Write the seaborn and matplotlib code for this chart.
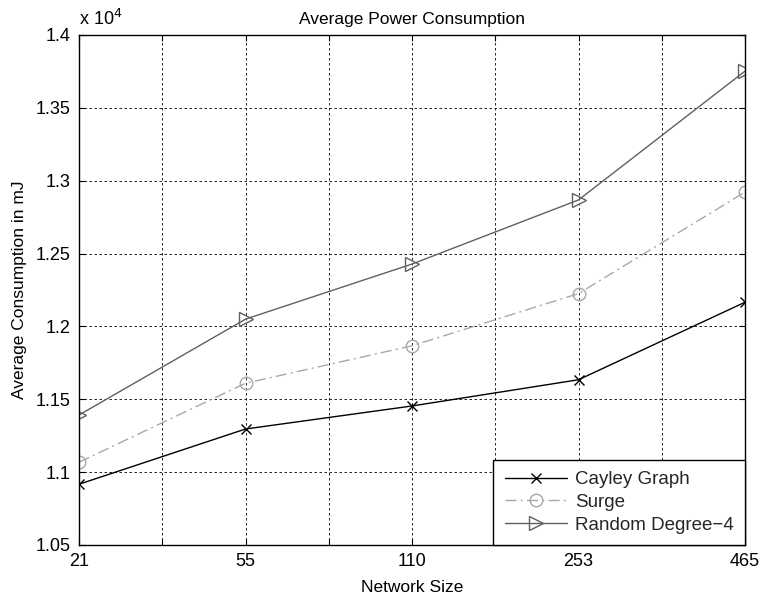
import matplotlib
matplotlib.use("Agg")
import matplotlib.pyplot as plt
import seaborn as sns
import numpy as np
import pandas as pd

network_sizes = ["21", "55", "110", "253", "465"]
cayley = [1.0917, 1.1296, 1.1454, 1.1634, 1.2166]
surge = [1.1068, 1.1610, 1.1867, 1.2225, 1.2922]
random_deg4 = [1.1392, 1.2050, 1.2428, 1.2868, 1.3752]

sns.set_theme(style="white")
plt.rcParams['font.family'] = ['Liberation Sans', 'DejaVu Sans']

fig = plt.figure(figsize=(7.62, 6.03), dpi=100)
ax = fig.add_axes([0.1037, 0.0962, 0.8740, 0.8458])

pos = np.arange(len(network_sizes))
df = pd.DataFrame({"pos": pos, "Cayley Graph": cayley, "Surge": surge,
                   "Random Degree\u22124": random_deg4})

sns.lineplot(data=df, x="pos", y="Cayley Graph", ax=ax, color="black", lw=1.0,
             marker="x", markersize=6.5, markeredgewidth=1.0, markeredgecolor="black",
             label="Cayley Graph")
sns.lineplot(data=df, x="pos", y="Surge", ax=ax, color="#a8a8a8", lw=1.0,
             linestyle=(0, (8, 3, 1.5, 3)), marker="o", markersize=9,
             markerfacecolor="none", markeredgecolor="#a8a8a8", markeredgewidth=1.0,
             label="Surge")
sns.lineplot(data=df, x="pos", y="Random Degree\u22124", ax=ax, color="#606060", lw=1.0,
             marker=">", markersize=10, markerfacecolor="none", markeredgecolor="#606060",
             markeredgewidth=1.0, label="Random Degree\u22124")

ax.set_xlim(0, 4)
ax.set_ylim(1.05, 1.4)
ticks = np.arange(0, 4.01, 0.5)
ax.set_xticks(ticks)
ax.set_xticklabels([network_sizes[int(t)] if t == int(t) else "" for t in ticks])
yt = np.arange(1.05, 1.4001, 0.05)
ax.set_yticks(yt)
ax.set_yticklabels([f"{v:g}" for v in np.round(yt, 2)])

ax.grid(True, color="black", linestyle=(0, (3, 3)), linewidth=0.6)
for s in ax.spines.values():
    s.set_color("black")
    s.set_linewidth(1.0)
ax.tick_params(direction="in", length=4, width=0.8, color="black", labelsize=13,
               top=True, right=True, bottom=True, left=True, labelcolor="black", pad=6)

ax.set_xlabel("Network Size", fontsize=12.5, color="black", labelpad=7)
ax.set_ylabel("Average Consumption in mJ", fontsize=12.5, color="black", labelpad=6)
ax.set_title("Average Power Consumption", fontsize=12.5, color="black", pad=8)
ax.text(0.0, 1.012, r"x 10$^4$", transform=ax.transAxes, fontsize=13,
        ha="left", va="bottom", color="black")

leg = ax.legend(loc="lower right", fontsize=13.5, frameon=True, fancybox=False,
                borderaxespad=0, handlelength=3.3, handletextpad=0.45,
                labelspacing=0.3, borderpad=0.6)
leg.get_frame().set_edgecolor("black")
leg.get_frame().set_linewidth(1.0)
leg.get_frame().set_alpha(1.0)

fig.savefig("out.png", dpi=100)
